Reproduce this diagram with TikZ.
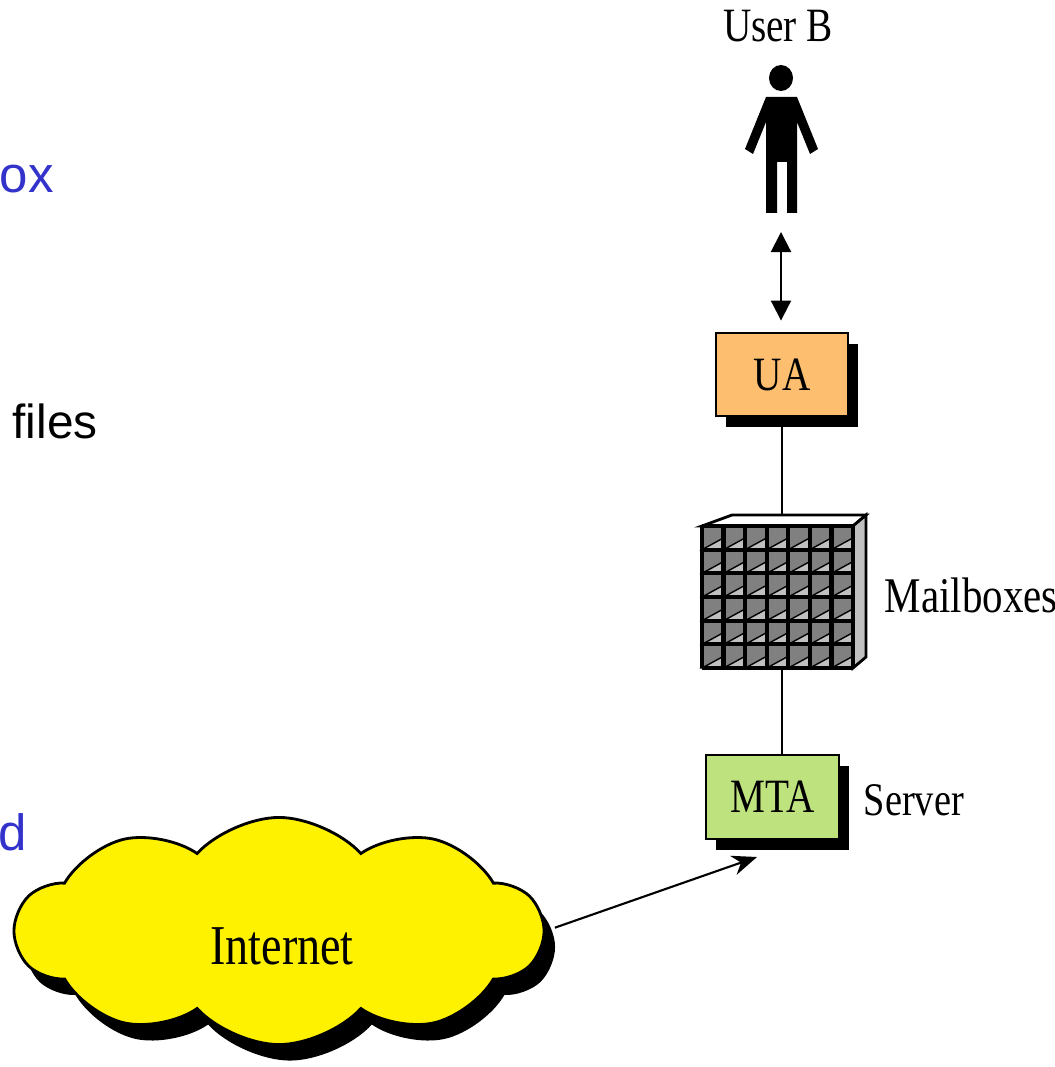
\documentclass[tikz,border=0pt]{standalone}
\usepackage{fontspec}
\setmainfont{Liberation Serif}[FakeStretch=0.82]
\newfontfamily\arialfont{Liberation Sans}
\usetikzlibrary{arrows.meta,shapes.symbols,shadows}
\definecolor{uaorange}{RGB}{253,191,111}
\definecolor{mtagreen}{RGB}{190,226,125}
\definecolor{slideblue}{RGB}{51,51,204}
\definecolor{mbdark}{RGB}{128,128,128}
\definecolor{mblight}{RGB}{192,192,192}

\begin{document}
\begin{tikzpicture}[x=0.01cm,y=-0.01cm,
    agent/.style={draw,line width=0.8pt,minimum width=1.32cm,minimum height=0.83cm,inner sep=0,
      drop shadow={fill=black,opacity=1,shadow xshift=0.1cm,shadow yshift=-0.11cm},
      font=\fontsize{13.6}{16}\selectfont},
    tag/.style={inner sep=0,font=\fontsize{13.6}{16}\selectfont},
    slide/.style={inner sep=0,anchor=base west,font=\arialfont\fontsize{14.5}{17}\selectfont}]
  \useasboundingbox (0,0) rectangle (1055,1067);

  \node[slide,text=slideblue] (boxtext) at (-1,193) {ox};
  \node[slide,font=\arialfont\fontsize{13.6}{16}\selectfont] (filestext) at (12,438) {files};
  \node[slide,text=slideblue] (dtext) at (-2,850) {d};

  \node[tag,anchor=base] (userb) at (778,42) {User B};
  \fill (781,78) circle [x radius=12,y radius=13];
  \fill (766,97) -- (797,97) -- (818,149) -- (810,154) -- (797,122) -- (797,213) -- (787,213)
    -- (787,162) -- (777,162) -- (777,213) -- (766,213) -- (766,122) -- (753,154) -- (745,149) -- cycle;
  \coordinate (feet) at (781,232);

  \node[agent,fill=uaorange] (ua) at (782,374.5) {UA};
  \node[agent,fill=mtagreen,minimum width=1.33cm,minimum height=0.84cm] (mta) at (772.5,797) {MTA};
  \node[tag,anchor=base west,font=\fontsize{13.3}{16}\selectfont] (server) at (863,815) {Server};

  \draw[line width=0.8pt,fill=white] (702,526) -- (732,515) -- (866,515) -- (853,526) -- cycle;
  \draw[line width=0.8pt,fill=mblight] (853,526) -- (866,515) -- (866,657) -- (853,668) -- cycle;
  \foreach \col in {0,...,6}
    \foreach \row in {0,...,5} {
      \fill[mbdark] ({702+\col*21.57},{526+\row*23.67}) rectangle ++(21.57,23.67);
      \filldraw[mblight,draw=black,line width=0.4pt] ({702+\col*21.57},{526+(\row+1)*23.67}) -- ++(21.57,0) -- ++(0,-11.8) -- cycle;
    }
  \foreach \col in {0,...,7}
    \draw[line width=1.2pt] ({702+\col*21.57},526) -- ++(0,142);
  \foreach \row in {0,...,6}
    \draw[line width=1.2pt] (702,{526+\row*23.67}) -- ++(151,0);
  \node[inner sep=0,minimum width=1.64cm,minimum height=1.53cm] (mbox) at (784,591.5) {};
  \node[tag,anchor=base west,font=\fontsize{14.2}{17}\selectfont] (mboxtext) at (884,612) {Mailboxes};

  \draw[line width=0.6pt] (ua.south) -- (ua.south |- mbox.north);
  \draw[line width=0.6pt] (ua.south |- mbox.south) -- (ua.south |- mta.north);
  \draw[line width=0.6pt,{Triangle[length=2mm,width=2mm]}-{Triangle[length=2mm,width=2mm]},shorten >=0.11cm] (feet) -- (feet |- ua.north);

  \node[cloud,cloud puffs=10,cloud puff arc=95,aspect=2.3,draw,line width=0.8pt,fill=yellow,
    minimum width=5.26cm,minimum height=2.27cm,
    drop shadow={fill=black,opacity=1,shadow xshift=0.11cm,shadow yshift=-0.16cm}] (net) at (279,931) {};
  \node[tag,anchor=base,font=\fontsize{16}{19}\selectfont] (nettext) at (282,964) {Internet};
  \coordinate (mtain) at (757,857);
  \draw[line width=0.6pt,-{Stealth[length=2.5mm,width=2mm]},shorten <=0.1cm] (net.east) -- (mtain);
\end{tikzpicture}
\end{document}
